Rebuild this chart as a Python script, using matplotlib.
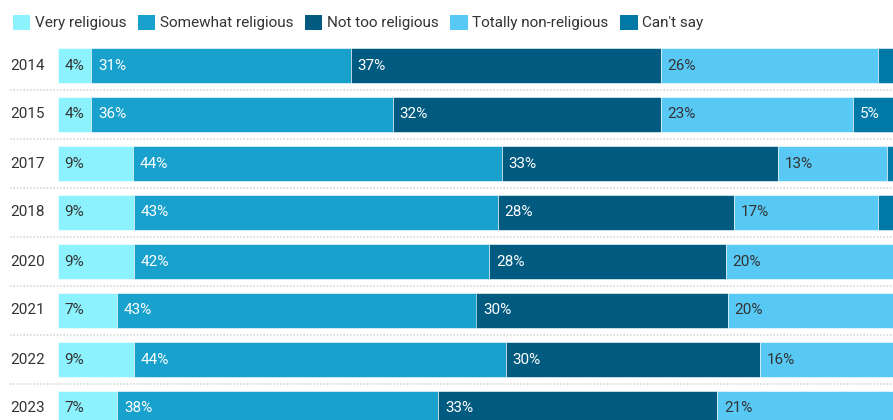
import matplotlib
matplotlib.use("Agg")
import matplotlib.pyplot as plt
from matplotlib.patches import Patch

plt.rcParams['font.family'] = ['Roboto', 'DejaVu Sans']

years = ["2014", "2015", "2017", "2018", "2020", "2021", "2022", "2023"]
very_religious = [4, 4, 9, 9, 9, 7, 9, 7]
somewhat_religious = [31, 36, 44, 43, 42, 43, 44, 38]
not_too_religious = [37, 32, 33, 28, 28, 30, 30, 33]
totally_non_religious = [26, 23, 13, 17, 20, 20, 16, 21]
cant_say = [2, 5, 1, 2, 0, 0, 0, 0]

series_names = ["Very religious", "Somewhat religious", "Not too religious",
                "Totally non-religious", "Can't say"]
series = [very_religious, somewhat_religious, not_too_religious,
          totally_non_religious, cant_say]
colors = ["#8cf3fe", "#18a1cd", "#015a80", "#58c9f5", "#0079a7"]
text_colors = ["#333333", "#ffffff", "#ffffff", "#333333", "#ffffff"]

W, H = 893, 420
fig = plt.figure(figsize=(W / 100, H / 100), dpi=100)
# 0..100% maps to pixel 58..895, rows 49px apart, first center at y=65.5
ax = fig.add_axes([58 / W, 0, 837 / W, 1])
ax.set_xlim(0, 100)
ax.set_ylim((H - 65.5) / 49, -65.5 / 49)
ax.axis("off")

bar_h = 35 / 49
year_x = -48 / 8.37
for i, yr in enumerate(years):
    total = sum(vals[i] for vals in series)
    left = 0
    for s, vals in enumerate(series):
        v = vals[i]
        w = v / total * 100  # stacked to 100%
        if v > 0:
            ax.barh(i, w, left=left, height=bar_h, color=colors[s],
                    edgecolor="white", linewidth=0.4)
            if v >= 4:
                ax.text(left + 0.8, i, f"{v}%", va="center", ha="left",
                        fontsize=11, color=text_colors[s])
        left += w
    ax.text(year_x, i, yr, va="center", ha="left", fontsize=11, color="#333333")
    if i < len(years) - 1:
        ax.plot([year_x, 101], [i + 0.5, i + 0.5], color="#d8d8d8",
                linestyle=(0, (1, 1)), linewidth=1.2, clip_on=False)

handles = [Patch(facecolor=c, edgecolor="none") for c in colors]
fig.legend(handles, series_names, loc="upper left", bbox_to_anchor=(2 / W, 1 - 4 / H),
           ncol=5, frameon=False, fontsize=11, handlelength=1.15, handleheight=1.15,
           handletextpad=0.3, columnspacing=0.75, labelcolor="#333333",
           borderaxespad=0.3)

fig.savefig("out.png", dpi=100)
